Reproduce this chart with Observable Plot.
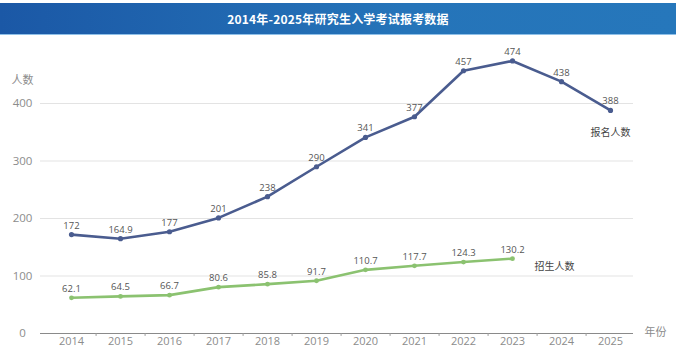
<!DOCTYPE html>
<html>
<head>
<meta charset="utf-8">
<script src="https://cdn.jsdelivr.net/npm/d3@7"></script>
<script src="https://cdn.jsdelivr.net/npm/@observablehq/plot@0.6"></script>
<style>
  html, body { margin: 0; padding: 0; background: #fff; }
  body { width: 680px; height: 354px; overflow: hidden; font-family: "Open Sans", "Noto Sans CJK SC", sans-serif; }
  #title {
    margin-top: 3px; width: 676px; height: 31px; line-height: 31px;
    background: linear-gradient(to right, #1b58a6, #2574b9 60%, #2677bb);
    border-bottom: 1px solid #8fc0e8;
    color: #fff; text-align: center; font-weight: bold; font-size: 12px;
    font-family: "Noto Sans CJK SC", sans-serif; letter-spacing: 0.2px;
  }
  #chart svg { display: block; }
</style>
</head>
<body>
<div id="title">2014年-2025年研究生入学考试报考数据</div>
<div id="chart"></div>
<script>
const years = [2014, 2015, 2016, 2017, 2018, 2019, 2020, 2021, 2022, 2023, 2024, 2025];
const applicants = [172, 164.9, 177, 201, 238, 290, 341, 377, 457, 474, 438, 388];
const admitYears = [2014, 2015, 2016, 2017, 2018, 2019, 2020, 2021, 2022, 2023];
const admitted = [62.1, 64.5, 66.7, 80.6, 85.8, 91.7, 110.7, 117.7, 124.3, 130.2];
const yTicks = [0, 100, 200, 300, 400];
const seriesNames = ["报名人数", "招生人数"];
const yLabel = "人数";
const xLabel = "年份";

const appData = years.map((y, i) => ({year: y, value: applicants[i]}));
const admData = admitYears.map((y, i) => ({year: y, value: admitted[i]}));

const blue = "#4a5c8f";
const green = "#8bc270";
const width = 680, height = 319;
const marginLeft = 40, marginRight = 47, insetLeft = 30, insetRight = 22;
const step = (width - marginLeft - marginRight - insetLeft - insetRight) / (years.length - 1);
const font = "'Open Sans', 'Noto Sans CJK SC', sans-serif";
const cjk = "'Noto Sans CJK SC', sans-serif";

const chart = Plot.plot({
  width, height,
  marginLeft, marginRight, marginTop: 22, marginBottom: 21,
  style: {fontFamily: font, background: "transparent"},
  x: {type: "point", domain: years, padding: 0, insetLeft, insetRight, axis: null},
  y: {domain: [0, 480], axis: null},
  marks: [
    Plot.gridY(yTicks.slice(1), {stroke: "#e3e3e3", strokeOpacity: 1}),
    Plot.ruleY([0], {stroke: "#8a8a8a", strokeWidth: 1.2}),
    Plot.ruleX(years.slice(0, -1), {x: d => d, dx: step / 2, y1: 0, y2: -5, stroke: "#999"}),
    Plot.text(yTicks, {y: d => d, frameAnchor: "left", dx: -18, textAnchor: "middle", fontSize: 11.5, fill: "#8c8c8c"}),
    Plot.text(years, {x: d => d, text: d => String(d), frameAnchor: "bottom", dy: 11, fontSize: 11, fill: "#8c8c8c"}),
    Plot.text([yLabel], {frameAnchor: "top-left", dx: -18, dy: 19, textAnchor: "middle", fontSize: 11, fill: "#8c8c8c", fontFamily: cjk}),
    Plot.text([xLabel], {frameAnchor: "bottom-right", dx: 22, dy: 2, textAnchor: "middle", fontSize: 11, fill: "#8c8c8c", fontFamily: cjk}),
    Plot.line(appData, {x: "year", y: "value", stroke: blue, strokeWidth: 2.6}),
    Plot.dot(appData, {x: "year", y: "value", fill: blue, r: 2.6}),
    Plot.text(appData, {x: "year", y: "value", text: d => String(d.value), dy: -9, fontSize: 9.5, fill: "#555"}),
    Plot.line(admData, {x: "year", y: "value", stroke: green, strokeWidth: 2.6}),
    Plot.dot(admData, {x: "year", y: "value", fill: green, r: 2.4}),
    Plot.text(admData, {x: "year", y: "value", text: d => String(d.value), dy: -9, fontSize: 9.5, fill: "#555"}),
    Plot.text([appData[appData.length - 1]], {x: "year", y: "value", text: () => seriesNames[0], dy: 22, fontSize: 10, fill: "#444", fontFamily: cjk}),
    Plot.text([admData[admData.length - 1]], {x: "year", y: "value", text: () => seriesNames[1], dx: 42, dy: 8, fontSize: 10, fill: "#444", fontFamily: cjk})
  ]
});
document.getElementById("chart").appendChild(chart);
</script>
</body>
</html>
